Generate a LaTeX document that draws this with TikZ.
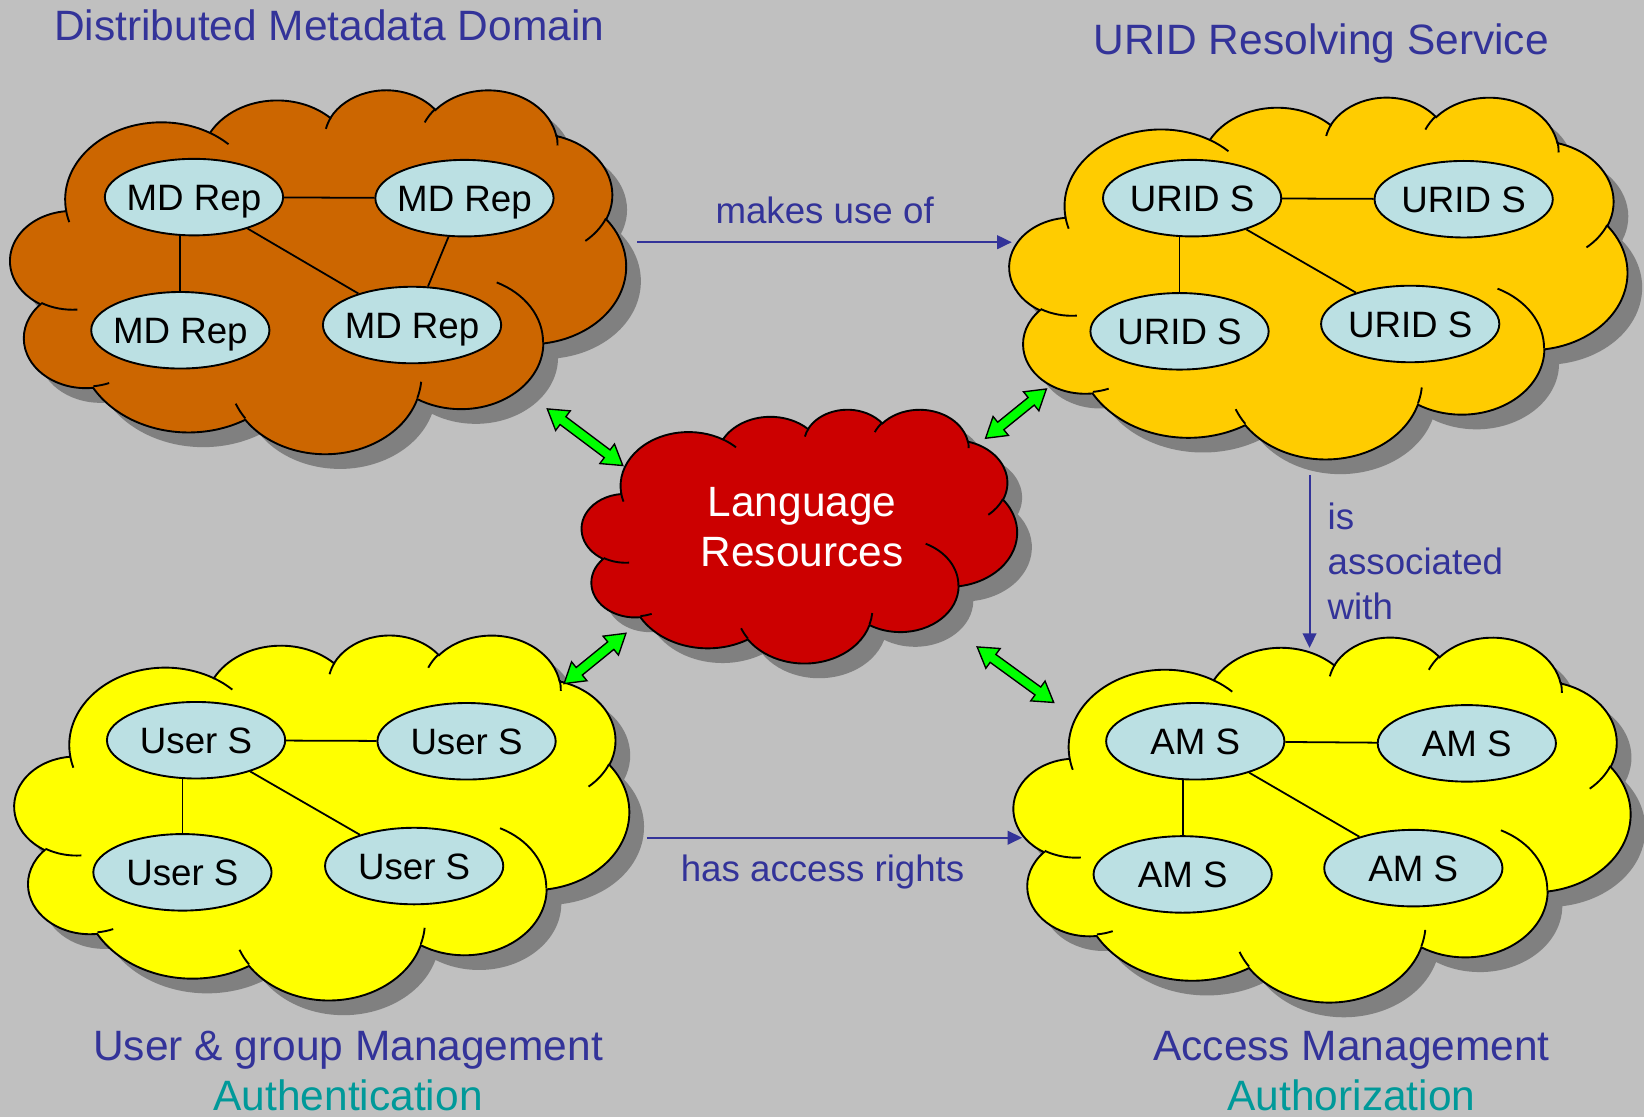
\documentclass[tikz,border=0pt]{standalone}
\usepackage{fontspec}
\setmainfont{Liberation Sans}
\usepackage{tikz}
\usetikzlibrary{shapes}
\usetikzlibrary{arrows.meta}
\usetikzlibrary{positioning}
\usetikzlibrary{calc}
\definecolor{bggray}{RGB}{192,192,192}
\definecolor{shadowgray}{RGB}{128,128,128}
\definecolor{mdorange}{RGB}{204,102,0}
\definecolor{uridgold}{RGB}{255,204,0}
\definecolor{lrred}{RGB}{204,0,0}
\definecolor{ugyellow}{RGB}{255,255,0}
\definecolor{srvfill}{RGB}{187,224,227}
\definecolor{relblue}{RGB}{51,51,153}
\definecolor{authteal}{RGB}{0,153,153}
\definecolor{linkgreen}{RGB}{0,255,0}
\tikzstyle{cloud outline}=[insert path={(39.00,143.70)
  arc[x radius=67.53,y radius=91.90,start angle=172.25,end angle=300.36]
  arc[x radius=53.33,y radius=72.67,start angle=-152.02,end angle=-45.46]
  arc[x radius=43.65,y radius=59.45,start angle=-153.49,end angle=-37.33]
  arc[x radius=48.57,y radius=65.95,start angle=-139.72,end angle=-10.22]
  arc[x radius=53.33,y radius=72.73,start angle=-74.77,end angle=23.21]
  arc[x radius=67.75,y radius=92.20,start angle=-37.53,end angle=81.86]
  arc[x radius=57.85,y radius=78.67,start angle=0.46,end angle=121.98]
  arc[x radius=67.52,y radius=92.15,start angle=16.85,end angle=146.23]
  arc[x radius=77.20,y radius=105.43,start angle=58.97,end angle=150.20]
  arc[x radius=43.60,y radius=59.18,start angle=83.31,end angle=223.11]
  arc[x radius=43.45,y radius=59.45,start angle=120.35,end angle=264.11] -- cycle}]
\tikzstyle{cloud inner}=[insert path={
  (46.93,261.77) arc[x radius=43.45,y radius=59.45,start angle=85.54,end angle=120.35]
  (69.28,348.99) arc[x radius=43.60,y radius=59.18,start angle=68.25,end angle=83.31]
  (164.78,390.90) arc[x radius=67.52,y radius=92.15,start angle=146.23,end angle=158.47]
  (288.27,347.51) arc[x radius=67.52,y radius=92.15,start angle=4.74,end angle=16.85]
  (341.29,229.54) arc[x radius=57.85,y radius=78.67,start angle=-64.03,end angle=0.46]
  (417.98,153.54) arc[x radius=53.33,y radius=72.73,start angle=23.21,end angle=49.64]
  (383.24,54.26) arc[x radius=48.57,y radius=65.95,start angle=-10.22,end angle=0.82]
  (290.78,39.52) arc[x radius=48.57,y radius=65.95,start angle=-156.30,end angle=-139.72]
  (221.41,47.20) arc[x radius=43.65,y radius=59.45,start angle=-167.72,end angle=-153.49]
  (140.00,51.92) arc[x radius=67.53,y radius=91.90,start angle=-59.64,end angle=-45.71]
  (41.27,157.89) arc[x radius=67.53,y radius=91.90,start angle=163.19,end angle=172.25]}]
\tikzstyle{cloudline}=[draw=black,line width=1.8pt]
\tikzstyle{srv}=[ellipse,draw,line width=1.8pt,fill=srvfill,minimum width=170pt,
  minimum height=73pt,inner xsep=-8pt,inner ysep=0pt,text height=25pt,text depth=0pt,
  font=\fontsize{35}{42}\selectfont]
\tikzstyle{link}=[line width=1.7pt]
\tikzstyle{rel}=[-{Triangle[length=14pt,width=13pt]},line width=2pt,draw=relblue]
\tikzstyle{lbl}=[text=relblue,font=\fontsize{35}{43}\selectfont]
\tikzstyle{ttl}=[anchor=base,text=relblue,font=\fontsize{40.5}{48}\selectfont]
\tikzstyle{dbl}=[double arrow,draw=black,line width=1.3pt,fill=linkgreen,inner sep=4pt,
  double arrow head extend=7pt,double arrow tip angle=64]
\newcommand{\cloud}[5]{%
  \begin{scope}[shift={(#1+14,#2+14)},xscale=#3/432,yscale=#4/432]
    \fill[shadowgray,cloud outline];
  \end{scope}
  \begin{scope}[shift={(#1,#2)},xscale=#3/432,yscale=#4/432]
    \filldraw[cloudline,fill=#5,cloud outline];
    \draw[cloudline,cloud inner];
  \end{scope}}
\begin{document}
\begin{tikzpicture}[x=1pt,y=-1pt]
\useasboundingbox (0,0) rectangle (1568,1065);
\fill[bggray] (0,0) rectangle (1568,1065);
%clouds
\cloud{10}{85}{587}{347}{mdorange}
\cloud{963}{92}{589}{345}{uridgold}
\cloud{555}{390}{415}{242}{lrred}
\cloud{14}{605}{586}{348}{ugyellow}
\cloud{967}{607}{588}{348}{ugyellow}
%titles
\node[ttl] (tmd) at (314,39) {Distributed Metadata Domain};
\node[ttl] (turid) at (1260,52) {URID Resolving Service};
\node[ttl] (tug) at (332,1011) {User \& group Management};
\node[ttl,text=authteal] (tauthn) at (332,1059) {Authentication};
\node[ttl] (tam) at (1289,1011) {Access Management};
\node[ttl,text=authteal] (tauthz) at (1289,1059) {Authorization};
\node[text=white,align=center,font=\fontsize{40.4}{48}\selectfont] (lr) at (765,503) {Language\\Resources};
%servers
\node[srv] (md1) at (185,188) {MD Rep};
\node[srv] (md2) at (443,189) {MD Rep};
\node[srv] (md3) at (172,315) {MD Rep};
\node[srv] (md4) at (393,310) {MD Rep};
\node[srv] (ur1) at (1137,189) {URID S};
\node[srv] (ur2) at (1396,190) {URID S};
\node[srv] (ur3) at (1125,316) {URID S};
\node[srv] (ur4) at (1345,309) {URID S};
\node[srv] (us1) at (187,706) {User S};
\node[srv] (us2) at (445,707) {User S};
\node[srv] (us3) at (174,832) {User S};
\node[srv] (us4) at (395,826) {User S};
\node[srv] (am1) at (1140,707) {AM S};
\node[srv] (am2) at (1399,709) {AM S};
\node[srv] (am3) at (1128,834) {AM S};
\node[srv] (am4) at (1348,828) {AM S};
\draw[link] (md1) -- (md2);
\draw[link] (md1.south -| md3.north) -- (md3.north);
\draw[link] (md1) -- (md4);
\draw[link] (md2) -- (md4);
\draw[link] (ur1) -- (ur2);
\draw[link] (ur1.south -| ur3.north) -- (ur3.north);
\draw[link] (ur1) -- (ur4);
\draw[link] (us1) -- (us2);
\draw[link] (us1.south -| us3.north) -- (us3.north);
\draw[link] (us1) -- (us4);
\draw[link] (am1) -- (am2);
\draw[link] (am1.south -| am3.north) -- (am3.north);
\draw[link] (am1) -- (am4);
%relations
\coordinate (mdE) at (608,231);
\coordinate (urW) at (965,231);
\coordinate (urS) at (1249,453);
\coordinate (amN) at (1249,618);
\coordinate (usE) at (617,799);
\coordinate (amW) at (975,799);
\draw[rel] (mdE) -- (urW) node[midway,above=13pt,lbl] {makes use of};
\draw[rel] (urS) -- (amN) node[midway,right=13pt,lbl,align=left] {is\\associated\\with};
\draw[rel] (usE) -- (amW) node[pos=0.468,below=12pt,lbl] {has access rights};
%green double arrows
\coordinate (mdG) at (522,390);
\coordinate (lrGa) at (594,444);
\coordinate (urG) at (998,371);
\coordinate (lrGb) at (940,418);
\coordinate (usG) at (538,652);
\coordinate (lrGc) at (597,604);
\coordinate (amG) at (1005,670);
\coordinate (lrGd) at (932,617);
\path let \p1=($(lrGa)-(mdG)$) in node[dbl,minimum height={veclen(\x1,\y1)},rotate={atan2(\y1,\x1)}] at ($(mdG)!0.5!(lrGa)$) {};
\path let \p1=($(lrGb)-(urG)$) in node[dbl,minimum height={veclen(\x1,\y1)},rotate={atan2(\y1,\x1)}] at ($(urG)!0.5!(lrGb)$) {};
\path let \p1=($(lrGc)-(usG)$) in node[dbl,minimum height={veclen(\x1,\y1)},rotate={atan2(\y1,\x1)}] at ($(usG)!0.5!(lrGc)$) {};
\path let \p1=($(lrGd)-(amG)$) in node[dbl,minimum height={veclen(\x1,\y1)},rotate={atan2(\y1,\x1)}] at ($(amG)!0.5!(lrGd)$) {};
\end{tikzpicture}
\end{document}
